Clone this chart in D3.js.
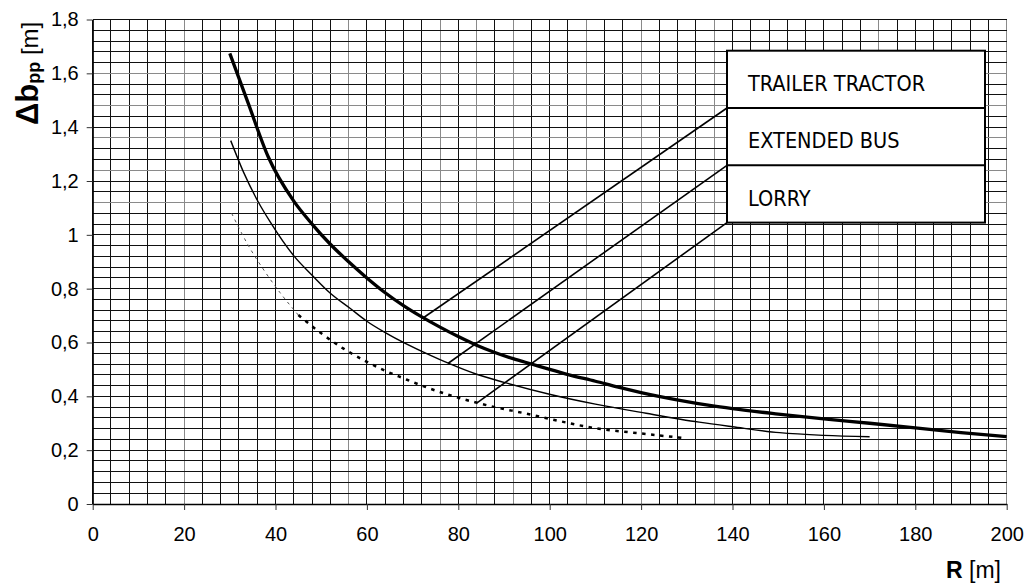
<!DOCTYPE html>
<html>
<head>
<meta charset="utf-8">
<script src="https://cdn.jsdelivr.net/npm/d3@7"></script>
<style>
  body { margin: 0; background: #fff; }
  svg { display: block; }
  .tick text { font-family: "Liberation Sans", Arial, sans-serif; font-size: 20px; fill: #000; }
</style>
</head>
<body>
<div id="chart"></div>
<script>
// Tick values and labels
var rTicks = [0, 20, 40, 60, 80, 100, 120, 140, 160, 180, 200];
var dbTicks = [0, 0.2, 0.4, 0.6, 0.8, 1, 1.2, 1.4, 1.6, 1.8];
var dbTickLabels = ["0", "0,2", "0,4", "0,6", "0,8", "1", "1,2", "1,4", "1,6", "1,8"];

// Series names (legend, top to bottom)
var seriesNames = ["TRAILER TRACTOR", "EXTENDED BUS", "LORRY"];

// Trailer tractor (thick line)
var trailerR  = [30, 34, 38.4, 44, 48, 52, 56, 60, 64, 68, 72, 76, 80, 84, 88, 92, 96, 100, 104, 110, 115, 120, 125, 130, 135, 140, 150, 160, 170, 180, 190, 200];
var trailerDb = [1.674, 1.49, 1.29, 1.125, 1.04, 0.965, 0.90, 0.84, 0.785, 0.737, 0.695, 0.657, 0.622, 0.59, 0.563, 0.54, 0.52, 0.50, 0.481, 0.456, 0.434, 0.414, 0.396, 0.38, 0.366, 0.354, 0.334, 0.316, 0.30, 0.283, 0.265, 0.25];

// Extended bus (thin line)
var busR  = [30.2, 33, 36.2, 38.8, 44.2, 48, 52, 56.3, 59.9, 64.3, 73.8, 77.8, 84, 90, 100.4, 110, 121.1, 132.7, 140, 150.3, 160, 170];
var busDb = [1.35, 1.233, 1.123, 1.049, 0.918, 0.85, 0.783, 0.727, 0.68, 0.634, 0.553, 0.523, 0.482, 0.452, 0.406, 0.371, 0.337, 0.304, 0.287, 0.265, 0.255, 0.25];

// Lorry (dotted line)
var lorryR  = [30.4, 34, 37.7, 41, 45, 49.7, 54.8, 59.9, 64, 68, 72.3, 78, 84.1, 88, 94.5, 100, 110.2, 120, 128.8];
var lorryDb = [1.08, 0.962, 0.863, 0.785, 0.702, 0.638, 0.578, 0.529, 0.495, 0.467, 0.438, 0.405, 0.376, 0.36, 0.337, 0.316, 0.281, 0.262, 0.246];

// Where each legend leader line touches its curve
var leaderR  = [72.2, 77.8, 84.1];
var leaderDb = [0.69, 0.523, 0.376];

// Background grid (millimetre-paper look)
var gridStepR = 4;
var gridStepDb = 0.04;
var grayGridR = [20, 56, 76, 84, 92, 108, 120, 136, 172, 200];
var grayGridDb = [1.12, 1.24, 1.36, 1.48, 1.6];

var svgWidth = 1025;
var svgHeight = 584;
var margin = { top: 19.5, right: 18.3, bottom: 80, left: 92.7 };
var width = svgWidth - margin.left - margin.right;
var height = svgHeight - margin.top - margin.bottom;

var svg = d3.select("#chart")
    .append("svg")
    .attr("width", svgWidth)
    .attr("height", svgHeight);

var chartGroup = svg.append("g")
    .attr("transform", `translate(${margin.left}, ${margin.top})`);

var xScale = d3.scaleLinear().domain([0, 200]).range([0, width]);
var yScale = d3.scaleLinear().domain([0, 1.8]).range([height, 0]);

// grid lines
var gridR = d3.range(0, 200 + 0.001, gridStepR);
var gridDb = d3.range(0, 45 + 1).map(i => +(i * gridStepDb).toFixed(2));
var isGrayR = v => grayGridR.indexOf(v) >= 0;
var isGrayDb = v => grayGridDb.some(g => Math.abs(g - v) < 1e-6);

var grid = chartGroup.append("g").attr("shape-rendering", "crispEdges");
grid.selectAll("line.gv")
    .data(gridR)
    .enter()
    .append("line")
    .attr("class", "gv")
    .attr("x1", d => xScale(d)).attr("x2", d => xScale(d))
    .attr("y1", 0).attr("y2", height)
    .attr("stroke", d => isGrayR(d) ? "#8a8a8a" : "#111")
    .attr("stroke-width", 1);
grid.selectAll("line.gh")
    .data(gridDb)
    .enter()
    .append("line")
    .attr("class", "gh")
    .attr("x1", 0).attr("x2", width)
    .attr("y1", d => yScale(d)).attr("y2", d => yScale(d))
    .attr("stroke", d => isGrayDb(d) ? "#8a8a8a" : "#111")
    .attr("stroke-width", 1);

// axes
var bottomAxis = d3.axisBottom(xScale)
    .tickValues(rTicks)
    .tickSize(6)
    .tickSizeOuter(0)
    .tickPadding(17);
var leftAxis = d3.axisLeft(yScale)
    .tickValues(dbTicks)
    .tickFormat((d, i) => dbTickLabels[i])
    .tickSize(6)
    .tickSizeOuter(0)
    .tickPadding(8);

var xAxisG = chartGroup.append("g")
    .attr("transform", `translate(0, ${height})`)
    .call(bottomAxis);
var yAxisG = chartGroup.append("g")
    .call(leftAxis);
[xAxisG, yAxisG].forEach(function(g) {
    g.attr("font-family", null).attr("font-size", null);
    g.select(".domain").attr("stroke", "#000").attr("stroke-width", 1.3);
    g.selectAll(".tick line").attr("stroke", "#333");
});

// curves
var lineGen = d3.line()
    .x(d => xScale(d[0]))
    .y(d => yScale(d[1]))
    .curve(d3.curveMonotoneX);

var trailerPts = d3.zip(trailerR, trailerDb);
var busPts = d3.zip(busR, busDb);
var lorryPts = d3.zip(lorryR, lorryDb);

chartGroup.append("path")
    .attr("d", lineGen(lorryPts.filter(d => d[0] <= 45)))
    .attr("fill", "none")
    .attr("stroke", "#555")
    .attr("stroke-width", 1)
    .attr("stroke-dasharray", "3,4");
chartGroup.append("path")
    .attr("d", lineGen(lorryPts.filter(d => d[0] >= 45)))
    .attr("fill", "none")
    .attr("stroke", "#000")
    .attr("stroke-width", 2.5)
    .attr("stroke-dasharray", "3.5,5.5");

chartGroup.append("path")
    .attr("d", lineGen(busPts))
    .attr("fill", "none")
    .attr("stroke", "#000")
    .attr("stroke-width", 1.4);

chartGroup.append("path")
    .attr("d", lineGen(trailerPts))
    .attr("fill", "none")
    .attr("stroke", "#000")
    .attr("stroke-width", 3.3)
    .attr("stroke-linejoin", "round");

// legend box with leader lines
var legendX = 727 - margin.left;
var legendY = 50.7 - margin.top;
var legendW = 258;
var rowH = 57.3;

seriesNames.forEach(function(name, i) {
    chartGroup.append("line")
        .attr("x1", xScale(leaderR[i]))
        .attr("y1", yScale(leaderDb[i]))
        .attr("x2", legendX)
        .attr("y2", legendY + rowH * (i + 1))
        .attr("stroke", "#000")
        .attr("stroke-width", 1.6);
});

chartGroup.append("rect")
    .attr("x", legendX)
    .attr("y", legendY)
    .attr("width", legendW)
    .attr("height", rowH * seriesNames.length)
    .attr("fill", "#fff")
    .attr("stroke", "#000")
    .attr("stroke-width", 2);

seriesNames.forEach(function(name, i) {
    if (i > 0) {
        chartGroup.append("line")
            .attr("x1", legendX).attr("x2", legendX + legendW)
            .attr("y1", legendY + rowH * i).attr("y2", legendY + rowH * i)
            .attr("stroke", "#000")
            .attr("stroke-width", 2);
    }
    chartGroup.append("text")
        .attr("x", legendX + 21)
        .attr("y", legendY + rowH * i + 40.3)
        .style("font-family", "'DejaVu Sans Condensed', 'DejaVu Sans', sans-serif")
        .style("font-size", "21.5px")
        .style("fill", "#000")
        .text(name);
});

// Y axis label
var yLabel = svg.append("text")
    .attr("transform", "translate(38, 125) rotate(-90)")
    .style("font-family", "'Liberation Sans', Arial, sans-serif")
    .style("fill", "#000");
yLabel.append("tspan")
    .style("font-weight", "bold")
    .style("font-size", "31px")
    .text("Δb");
yLabel.append("tspan")
    .attr("dy", 2)
    .style("font-weight", "bold")
    .style("font-size", "18px")
    .text("pp");
yLabel.append("tspan")
    .attr("dy", -2)
    .style("font-size", "24px")
    .text(" [m]");

// X axis label
var xLabel = svg.append("text")
    .attr("x", 1001)
    .attr("y", 578)
    .attr("text-anchor", "end")
    .style("font-family", "'Liberation Sans', Arial, sans-serif")
    .style("font-size", "23px")
    .style("fill", "#000");
xLabel.append("tspan").style("font-weight", "bold").text("R");
xLabel.append("tspan").text(" [m]");
</script>
</body>
</html>
